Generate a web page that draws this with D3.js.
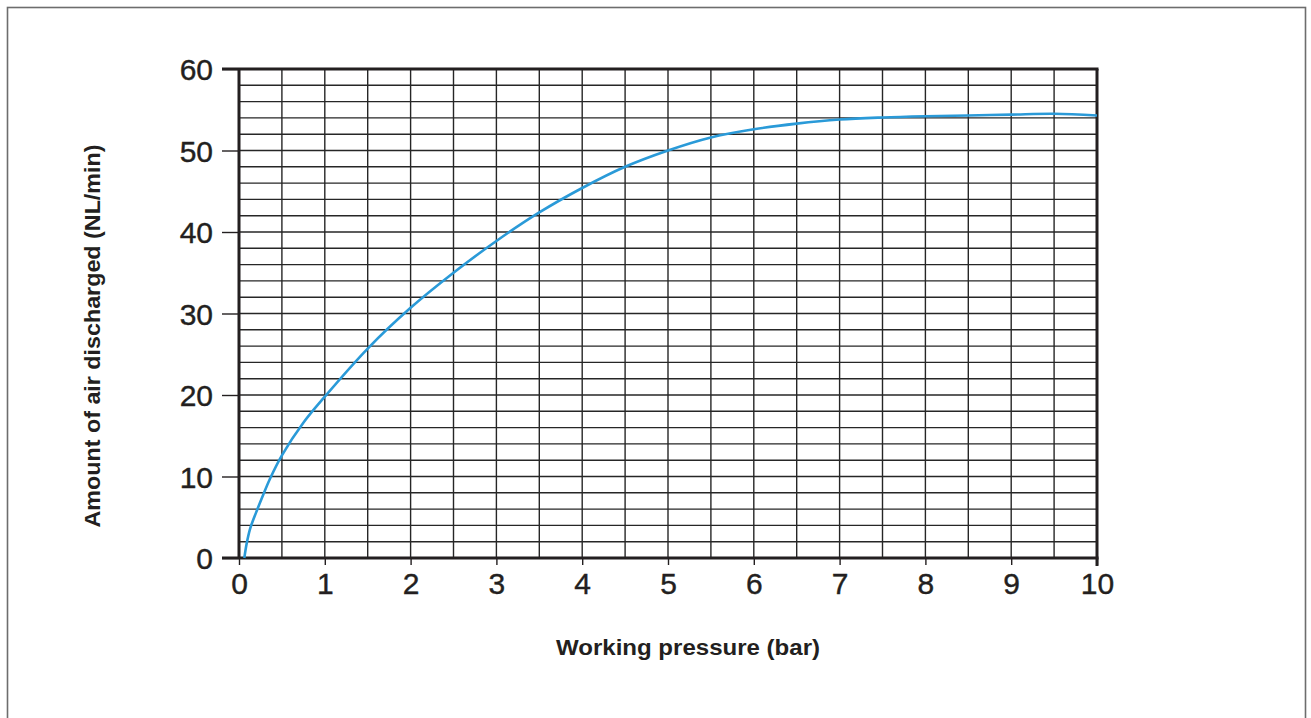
<!DOCTYPE html>
<html>
<head>
<meta charset="utf-8">
<script src="https://cdn.jsdelivr.net/npm/d3@7"></script>
<style>
  body { margin: 0; background: #fff; }
  text { font-family: "Liberation Sans", Arial, sans-serif; fill: #231f20; }
</style>
</head>
<body>
<div class="chart-container"></div>
<script>
const WIDTH = 1311;
const HEIGHT = 718;

// data
const pressure = [0.062, 0.09, 0.13, 0.2, 0.28, 0.36, 0.5, 0.75, 1, 1.5, 2, 2.5, 3, 3.5, 4, 4.5, 5, 5.5, 6, 6.5, 7, 7.5, 8, 8.5, 9, 9.5, 10];
const airFlow = [0, 1.8, 3.6, 5.6, 7.7, 9.7, 12.6, 16.6, 19.8, 25.7, 30.7, 35.0, 38.9, 42.4, 45.4, 48.0, 50.0, 51.6, 52.6, 53.3, 53.8, 54.05, 54.2, 54.3, 54.4, 54.5, 54.3];

const xTicks = [0, 1, 2, 3, 4, 5, 6, 7, 8, 9, 10];
const yTicks = [0, 10, 20, 30, 40, 50, 60];
const xGrid = d3.range(0.5, 10, 0.5);
const yGrid = d3.range(2, 60, 2);

const xTitle = "Working pressure (bar)";
const yTitle = "Amount of air discharged (NL/min)";

const margin = { top: 69, left: 239, right: 1097, bottom: 558 };

const svg = d3
  .select(".chart-container")
  .append("svg")
  .attr("width", WIDTH)
  .attr("height", HEIGHT);

// outer frame (bottom edge falls outside the picture)
svg.append("rect")
  .attr("x", 7.5).attr("y", 7.5)
  .attr("width", 1298).attr("height", 740)
  .attr("fill", "none")
  .attr("stroke", "#6d6d6d")
  .attr("stroke-width", 1.6);

const x = d3.scaleLinear().domain([0, 10]).range([margin.left, margin.right]);
const y = d3.scaleLinear().domain([0, 60]).range([margin.bottom, margin.top]);

const grid = svg.append("g").attr("stroke", "#262626").attr("stroke-width", 1.4);

grid.selectAll("line.v")
  .data(xGrid)
  .join("line")
  .attr("class", "v")
  .attr("x1", (d) => x(d)).attr("x2", (d) => x(d))
  .attr("y1", y(0)).attr("y2", y(60));

grid.selectAll("line.h")
  .data(yGrid)
  .join("line")
  .attr("class", "h")
  .attr("x1", x(0)).attr("x2", x(10))
  .attr("y1", (d) => y(d)).attr("y2", (d) => y(d));

// axes
const xAxis = svg.append("g")
  .attr("transform", `translate(0,${y(0)})`)
  .call(d3.axisBottom(x).tickValues(xTicks).tickSize(7).tickSizeOuter(0).tickPadding(6));

const yAxis = svg.append("g")
  .attr("transform", `translate(${x(0)},0)`)
  .call(d3.axisLeft(y).tickValues(yTicks).tickSize(17).tickSizeOuter(0).tickPadding(9));

[xAxis, yAxis].forEach((g) => {
  g.select(".domain").remove();
  g.selectAll(".tick line").attr("stroke", "#231f20").attr("stroke-width", 1.4);
  g.selectAll(".tick text")
    .attr("font-size", "30px")
    .attr("fill", "#231f20")
    .attr("stroke", "#231f20")
    .attr("stroke-width", 0.4)
    .style("font-family", "'Liberation Sans', Arial, sans-serif");
});

xAxis.selectAll(".tick text").attr("dy", "0.78em");
yAxis.selectAll(".tick text").attr("dy", "0.36em");

// thick frame of the plot
const frame = svg.append("g").attr("stroke", "#231f20").attr("stroke-width", 3).attr("fill", "none");
frame.append("line").attr("x1", x(0) - 17).attr("x2", x(10) + 1.5).attr("y1", y(0)).attr("y2", y(0));
frame.append("line").attr("x1", x(0) - 17).attr("x2", x(10) + 1.5).attr("y1", y(60)).attr("y2", y(60));
frame.append("line").attr("x1", x(0)).attr("x2", x(0)).attr("y1", y(60)).attr("y2", y(0));
frame.append("line").attr("x1", x(10)).attr("x2", x(10)).attr("y1", y(60)).attr("y2", y(0) + 8);

// curve
const points = pressure.map((p, i) => ({ p: p, q: airFlow[i] }));
const line = d3.line()
  .x((d) => x(d.p))
  .y((d) => y(d.q))
  .curve(d3.curveCatmullRom.alpha(0.5));

svg.append("path")
  .datum(points)
  .attr("d", line)
  .attr("fill", "none")
  .attr("stroke", "#2a9ad8")
  .attr("stroke-width", 2.6);

// axis titles
svg.append("text")
  .attr("x", 688).attr("y", 655)
  .attr("text-anchor", "middle")
  .attr("font-size", "22px")
  .attr("font-weight", "bold")
  .attr("textLength", 264)
  .attr("lengthAdjust", "spacingAndGlyphs")
  .text(xTitle);

svg.append("text")
  .attr("transform", "translate(100,336) rotate(-90)")
  .attr("text-anchor", "middle")
  .attr("font-size", "22px")
  .attr("font-weight", "bold")
  .attr("textLength", 383)
  .attr("lengthAdjust", "spacingAndGlyphs")
  .text(yTitle);
</script>
</body>
</html>
